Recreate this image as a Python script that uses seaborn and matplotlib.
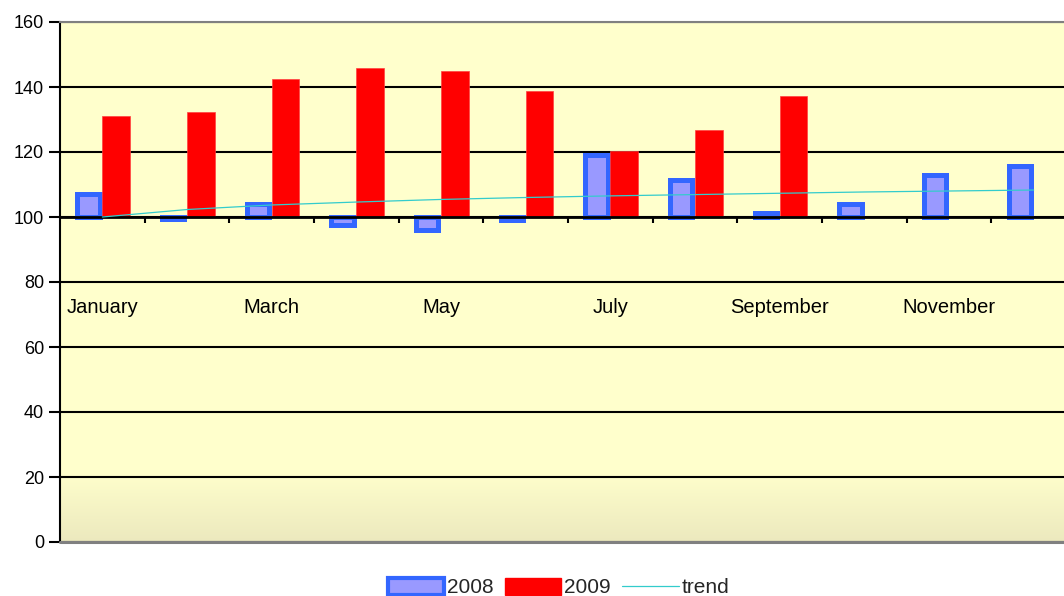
import numpy as np
import pandas as pd
import matplotlib
matplotlib.use("Agg")
import matplotlib.pyplot as plt
from matplotlib.patches import Patch
from matplotlib.lines import Line2D
from matplotlib.colors import LinearSegmentedColormap
from matplotlib.ticker import FuncFormatter
import seaborn as sns

# values (index, axis crosses at 100)
months = ["January", "February", "March", "April", "May", "June", "July",
          "August", "September", "October", "November", "December"]
values_2008 = [107.0, 99.5, 103.9, 97.6, 95.9, 99.2, 119.0, 111.4, 101.1, 104.0, 112.9, 115.8]
values_2009 = [131.0, 132.2, 142.4, 145.8, 144.9, 138.8, 120.3, 126.8, 137.2, np.nan, np.nan, np.nan]
trend = [100.0, 102.3, 103.7, 104.6, 105.4, 106.0, 106.5, 106.9, 107.3, 107.7, 108.0, 108.3]
shown_months = ["January", "March", "May", "July", "September", "November"]
base = 100

sns.set_style("ticks")
plt.rcParams["font.family"] = ["Liberation Sans", "DejaVu Sans"]

df = pd.DataFrame({
    "month": months * 2,
    "year": ["2008"] * 12 + ["2009"] * 12,
    "delta": [v - base for v in values_2008] + [v - base for v in values_2009],
})

fig = plt.figure(figsize=(10.64, 5.96), dpi=100)
ax = fig.add_axes([60 / 1064, 54 / 596, 1016 / 1064, 520 / 596])

# background: pale yellow with a light gradient near the bottom
ax.set_facecolor("#FFFFCC")
grad = LinearSegmentedColormap.from_list("bg", ["#ECE9BE", "#FFFFCC"])
ax.imshow(np.linspace(0, 1, 100).reshape(-1, 1), cmap=grad, origin="lower",
          extent=(-0.5, 11.5, -100, -78), aspect="auto", zorder=0.1)

sns.barplot(data=df, x="month", y="delta", hue="year", order=months,
            palette={"2008": "#9999FF", "2009": "#FF0000"}, width=0.65,
            saturation=1, errorbar=None, legend=False, ax=ax, zorder=2)

# 2008 bars get the thick blue outline, 2009 bars stay plain red
for bar in ax.containers[0]:
    w = bar.get_width()
    bar.set_x(bar.get_x() + 0.03)
    bar.set_width(w - 0.06)
    bar.set_edgecolor("#3366FF")
    bar.set_linewidth(3.6)
for bar in ax.containers[1]:
    bar.set_edgecolor("#FF4040")
    bar.set_linewidth(0.5)

sns.lineplot(x=np.arange(len(months)), y=[t - base for t in trend], color="#33CCCC",
             linewidth=0.9, ax=ax, zorder=4)

ax.set_xlim(-0.5, 11.5)
ax.set_ylim(-100, 60)
ax.set_xlabel("")
ax.set_ylabel("")

# y axis: labels show the real index values
ax.set_yticks(np.arange(-100, 61, 20))
ax.yaxis.set_major_formatter(FuncFormatter(lambda v, p: f"{v + base:.0f}"))
ax.yaxis.grid(True, color="black", linewidth=1.5)
ax.set_axisbelow(True)
ax.tick_params(axis="y", direction="out", length=8, width=1.5, pad=3.5,
               labelsize=13, colors="black")

# x axis sits on the 100 line
ax.spines["bottom"].set_position(("data", 0))
ax.spines["bottom"].set_linewidth(2.0)
ax.spines["bottom"].set_color("black")
ax.spines["left"].set_linewidth(1.5)
ax.spines["left"].set_color("black")
ax.spines["top"].set_visible(True)
ax.spines["top"].set_color("#808080")
ax.spines["top"].set_linewidth(1.5)
ax.spines["right"].set_visible(False)
ax.axhline(-100, color="#808080", linewidth=2.2, clip_on=False, zorder=5)

ax.set_xticks([months.index(m) for m in shown_months])
ax.set_xticklabels(shown_months)
ax.set_xticks(np.arange(0.5, 11, 1), minor=True)
ax.tick_params(axis="x", which="major", length=0, pad=58, labelsize=14.5, colors="black")
ax.tick_params(axis="x", which="minor", direction="out", length=4.5, width=1.5, color="black")

handles = [
    Patch(facecolor="#9999FF", edgecolor="#3366FF", linewidth=3.0),
    Patch(facecolor="#FF0000", edgecolor="#FF0000"),
    Line2D([0], [0], color="#33CCCC", linewidth=0.9),
]
fig.legend(handles, ["2008", "2009", "trend"], loc="center",
           bbox_to_anchor=(0.525, 0.014), ncol=3, frameon=False, fontsize=15,
           handlelength=2.7, handleheight=0.85, handletextpad=0.15, columnspacing=0.55)

fig.savefig("out.png", dpi=100, facecolor="white")
